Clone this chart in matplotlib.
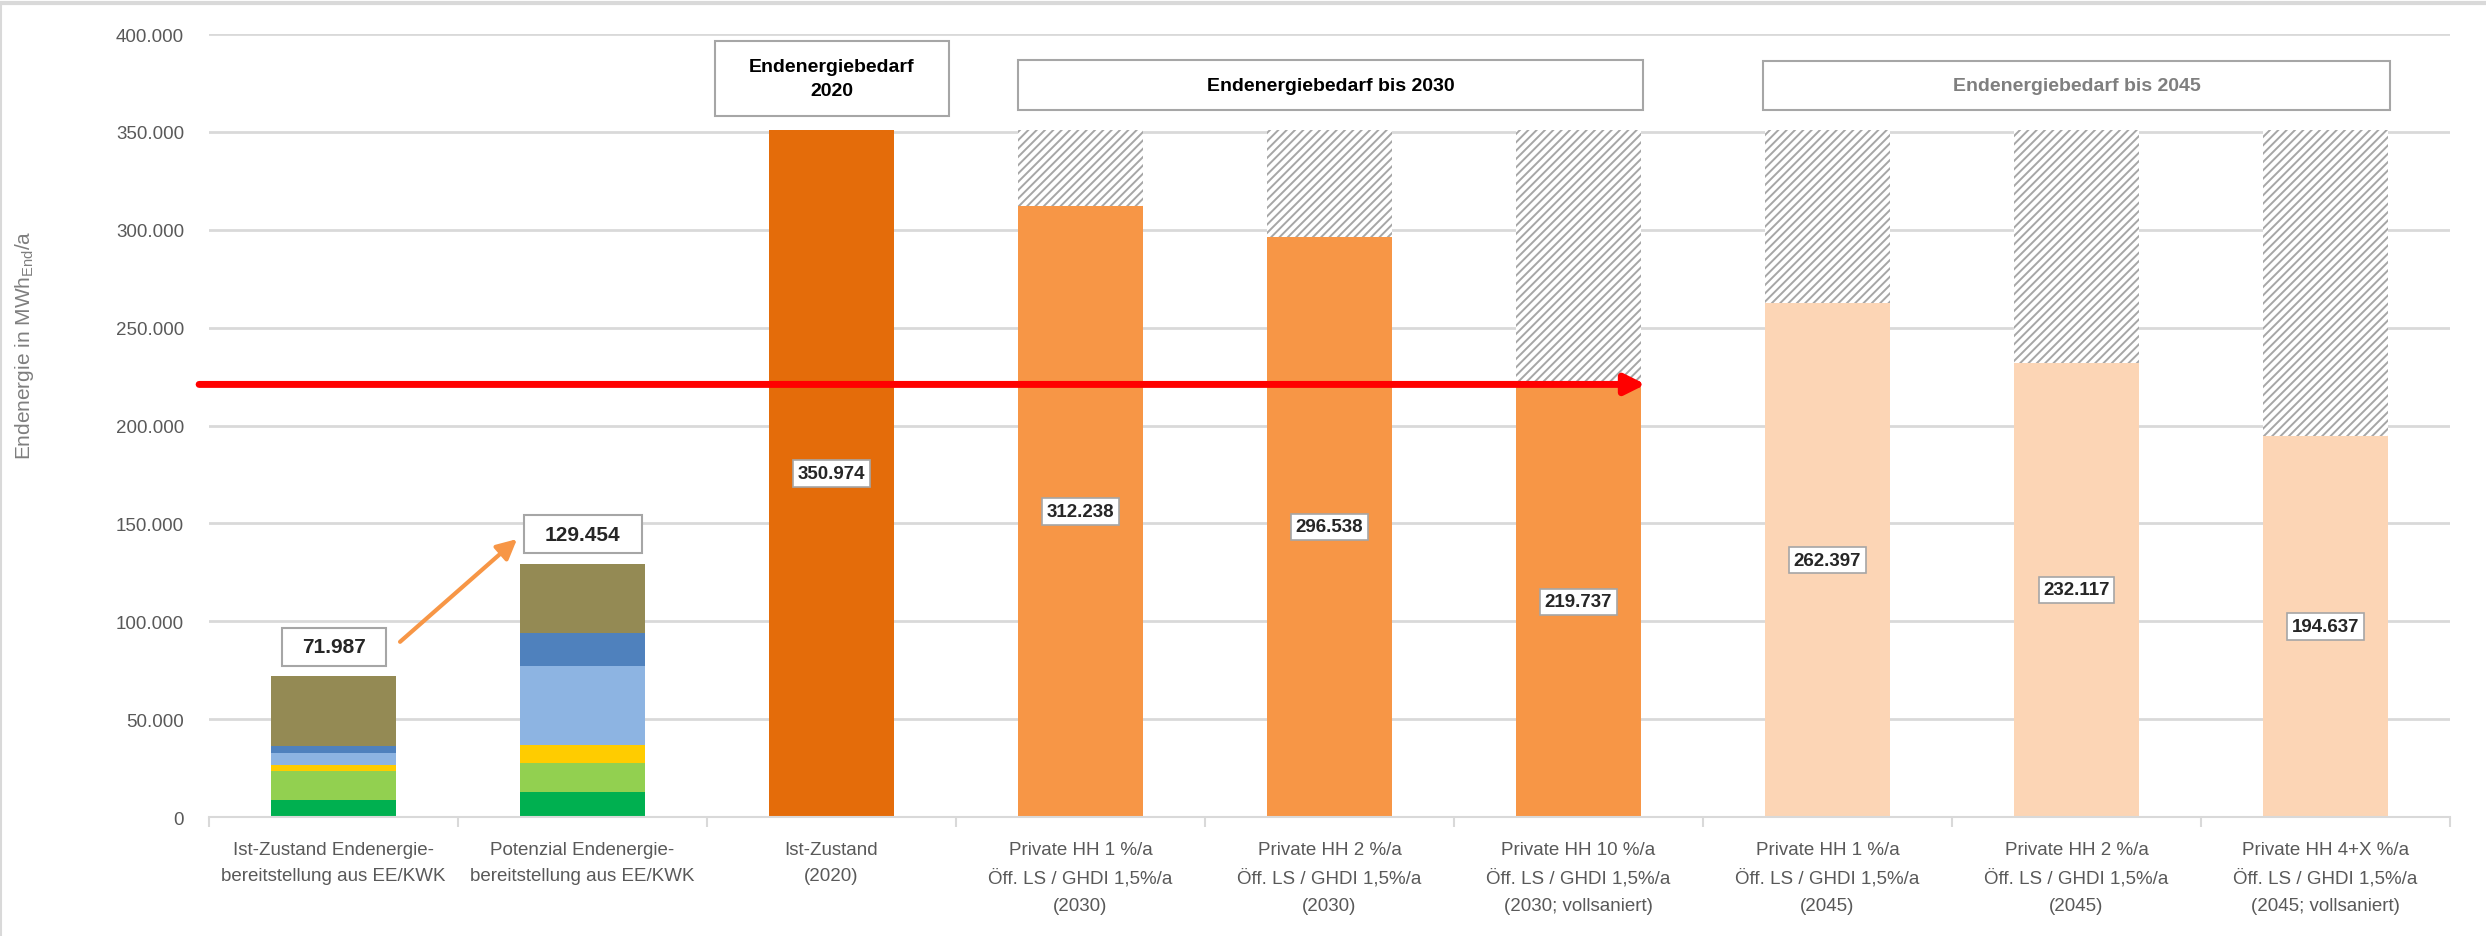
import numpy as np
import matplotlib
matplotlib.use("Agg")
import matplotlib.pyplot as plt
from matplotlib.patches import Rectangle
from matplotlib.lines import Line2D

plt.rcParams['font.family'] = ['Liberation Sans', 'DejaVu Sans']
plt.rcParams['hatch.color'] = '#A6A6A6'
plt.rcParams['hatch.linewidth'] = 1.4

kategorien = [
    "Ist-Zustand Endenergie-\nbereitstellung aus EE/KWK",
    "Potenzial Endenergie-\nbereitstellung aus EE/KWK",
    "Ist-Zustand\n(2020)",
    "Private HH 1 %/a\nÖff. LS / GHDI 1,5%/a\n(2030)",
    "Private HH 2 %/a\nÖff. LS / GHDI 1,5%/a\n(2030)",
    "Private HH 10 %/a\nÖff. LS / GHDI 1,5%/a\n(2030; vollsaniert)",
    "Private HH 1 %/a\nÖff. LS / GHDI 1,5%/a\n(2045)",
    "Private HH 2 %/a\nÖff. LS / GHDI 1,5%/a\n(2045)",
    "Private HH 4+X %/a\nÖff. LS / GHDI 1,5%/a\n(2045; vollsaniert)",
]

# EE/KWK-Bereitstellung, gestapelt (MWh/a)
ee_farben = ['#00B050', '#92D050', '#FFCC00', '#8DB4E2', '#4F81BD', '#948A54']
ee_ist = [8900, 14600, 3200, 6200, 3200, 35887]
ee_potenzial = [12800, 15000, 8900, 40400, 16700, 35654]
ee_summen = [71987, 129454]

# Endenergiebedarf (MWh/a)
bedarf_2020 = 350974
bedarf_2030 = [312238, 296538, 219737]
bedarf_2045 = [262397, 232117, 194637]

kopf_texte = ["Endenergiebedarf\n2020", "Endenergiebedarf bis 2030", "Endenergiebedarf bis 2045"]


def tausender(v):
    return f"{int(v):,}".replace(",", ".")


fig = plt.figure(figsize=(24.86, 9.37), dpi=100)
ax = fig.add_axes([0.0841, 0.127, 0.9014, 0.8356])
ax.set_xlim(-0.5, 8.5)
ax.set_ylim(0, 400000)

grau_linie = '#D9D9D9'
ax.yaxis.grid(True, color=grau_linie, lw=2, zorder=0)
ax.set_axisbelow(True)
for s in ['top', 'right', 'left']:
    ax.spines[s].set_visible(False)
ax.spines['bottom'].set_color(grau_linie)
ax.spines['bottom'].set_linewidth(1.5)

breite = 0.5

# gestapelte EE/KWK-Balken
for i, teile in enumerate([ee_ist, ee_potenzial]):
    unten = 0
    for wert, farbe in zip(teile, ee_farben):
        ax.bar(i, wert, breite, bottom=unten, color=farbe, lw=0, zorder=2)
        unten += wert
    # Summenbeschriftung über dem Balken
    yb = ee_summen[i] + 15000
    w = [0.418, 0.474][i]
    ax.add_patch(Rectangle((i - w / 2, yb - 9700), w, 19400, fc='white',
                           ec='#A6A6A6', lw=1.5, zorder=4))
    ax.text(i, yb, tausender(ee_summen[i]), ha='center', va='center',
            fontsize=15, fontweight='bold', color='#262626', zorder=5)

ax.annotate('', xy=(0.737, 142000), xytext=(0.267, 89500),
            arrowprops=dict(arrowstyle='-|>,head_length=0.6,head_width=0.3',
                            color='#F79646', lw=3, mutation_scale=20,
                            shrinkA=0, shrinkB=0), zorder=5)

# Bedarfsbalken mit schraffierter Einsparung bis 2020-Niveau
werte = [bedarf_2020] + bedarf_2030 + bedarf_2045
farben = ['#E46C0A'] + ['#F79646'] * 3 + ['#FCD5B5'] * 3
for k, (wert, farbe) in enumerate(zip(werte, farben)):
    x = k + 2
    ax.bar(x, wert, breite, color=farbe, lw=0, zorder=2)
    if wert < bedarf_2020:
        ax.bar(x, bedarf_2020 - wert, breite, bottom=wert, facecolor='white',
               edgecolor='#A6A6A6', hatch='////', lw=0, zorder=2)
    ax.text(x, wert / 2, tausender(wert), ha='center', va='center',
            fontsize=13.5, fontweight='bold', color='#262626', zorder=5,
            bbox=dict(boxstyle='square,pad=0.25', fc='white', ec='#A6A6A6', lw=1.2))

# Kopfzeilen
kopf_pos = [(1.53, 2.47, 358000, 396400), (2.75, 5.26, 361000, 386700),
            (5.74, 8.26, 361000, 386400)]
kopf_farbe = ['black', 'black', '#7F7F7F']
for text, (x0, x1, y0, y1), fc in zip(kopf_texte, kopf_pos, kopf_farbe):
    ax.add_patch(Rectangle((x0, y0), x1 - x0, y1 - y0, fc='white', ec='#A6A6A6',
                           lw=1.5, zorder=4, clip_on=False))
    ax.text((x0 + x1) / 2, (y0 + y1) / 2, text, ha='center', va='center',
            fontsize=14, fontweight='bold', color=fc, linespacing=1.5, zorder=5)

# roter Pfeil auf Höhe des vollsanierten 2030-Bedarfs
ax.annotate('', xy=(5.27, 221000), xytext=(-0.54, 221000),
            arrowprops=dict(arrowstyle='-|>,head_length=0.6,head_width=0.3',
                            color='#FF0000', lw=5, mutation_scale=20,
                            shrinkA=0, shrinkB=0),
            annotation_clip=False, zorder=6)

# Achsen
ax.set_yticks(np.arange(0, 400001, 50000))
ax.set_yticklabels([tausender(v) for v in np.arange(0, 400001, 50000)])
ax.tick_params(axis='y', length=0, pad=18, labelsize=13.5, labelcolor='#595959')

ax.set_xticks(np.arange(-0.5, 9, 1))
ax.set_xticklabels([])
ax.set_xticks(np.arange(9), minor=True)
ax.set_xticklabels(kategorien, minor=True, linespacing=1.75)
ax.tick_params(axis='x', which='major', length=7, width=1.5, color=grau_linie)
ax.tick_params(axis='x', which='minor', length=0, pad=17, labelsize=13.5,
               labelcolor='#595959')

ax.set_ylabel(r'Endenergie in MWh$_{\mathregular{End}}$/a', fontsize=15, color='#7F7F7F')
ax.yaxis.set_label_coords(-0.0772, 0.604)

# Rahmen
fig.add_artist(Line2D([0, 1], [0.9955, 0.9955], color=grau_linie, lw=3))
fig.add_artist(Line2D([0.0006, 0.0006], [0, 0.9955], color=grau_linie, lw=1.5))

fig.savefig('out.png', dpi=100, facecolor='white')
